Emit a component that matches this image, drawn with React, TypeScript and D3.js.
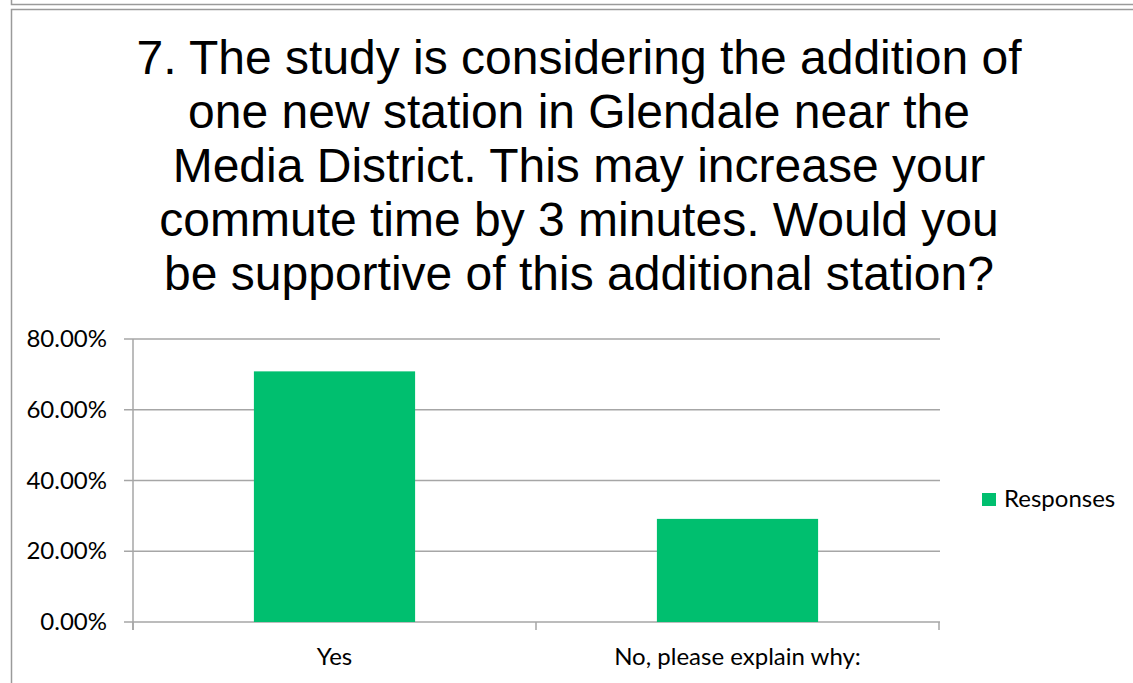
import React from 'react'
import { scaleBand, scaleLinear, format } from 'd3'

const titleLines = [
  '7. The study is considering the addition of',
  'one new station in Glendale near the',
  'Media District. This may increase your',
  'commute time by 3 minutes. Would you',
  'be supportive of this additional station?'
]
const categories = ['Yes', 'No, please explain why:']
const responses = [0.7085, 0.2915]
const yTicks = [0, 0.2, 0.4, 0.6, 0.8]
const seriesName = 'Responses'

const W = 1133
const H = 683
const green = '#00bf6f'
const grid = '#a6a6a6'
const labelFont = 'Lato, "Open Sans", sans-serif'

export default function App() {
  const left = 133, right = 939, top = 339, bottom = 622

  const x = scaleBand<string>()
    .domain(categories)
    .range([left, right])
    .paddingInner(0.6)
    .paddingOuter(0.3)

  const y = scaleLinear().domain([0, 0.8]).range([bottom, top])
  const fmt = format('.2%')

  // category boundaries for the x tick marks
  const step = x.step()
  const bounds = [0, 1, 2].map(i => left + i * step)

  return (
    <svg width={W} height={H} style={{ position: 'absolute', left: 0, top: 0, background: '#fff' }}>
      {/* frame lines */}
      <path d={`M11.5,0 V4.5 H${W}`} fill="none" stroke="#9a9a9a" strokeWidth={1.5} />
      <path d={`M${W},9.5 H11.5 V${H}`} fill="none" stroke="#9a9a9a" strokeWidth={1.5} />

      <g fontFamily='"Liberation Sans", Arial, sans-serif' fontSize={48} textAnchor="middle" fill="#000">
        {titleLines.map((t, i) => (
          <text key={i} x={579} y={74 + i * 54}>{t}</text>
        ))}
      </g>

      {/* gridlines + y ticks */}
      <g>
        {yTicks.map(t => (
          <g key={t}>
            <line x1={124} x2={right + 1} y1={y(t)} y2={y(t)} stroke={grid} strokeWidth={1.5} />
            <text x={107} y={y(t) + 8} textAnchor="end" fontFamily={labelFont} fontSize={24} fill="#000">
              {fmt(t)}
            </text>
          </g>
        ))}
        <line x1={left} x2={left} y1={top} y2={bottom + 8} stroke={grid} strokeWidth={1.5} />
      </g>

      {/* bars */}
      {categories.map((c, i) => (
        <rect key={c} x={x(c)} y={y(responses[i])} width={x.bandwidth()} height={bottom - y(responses[i])} fill={green} />
      ))}

      {/* x ticks */}
      {bounds.map((b, i) => (
        <line key={i} x1={b} x2={b} y1={bottom} y2={bottom + 8} stroke={grid} strokeWidth={1.5} />
      ))}
      {categories.map(c => (
        <text key={c} x={(x(c) as number) + x.bandwidth() / 2} y={665} textAnchor="middle"
          fontFamily={labelFont} fontSize={24} fill="#000">{c}</text>
      ))}

      {/* legend */}
      <rect x={982} y={493} width={14} height={13} fill={green} />
      <text x={1004} y={507} fontFamily={labelFont} fontSize={24} fill="#000">{seriesName}</text>
    </svg>
  )
}
